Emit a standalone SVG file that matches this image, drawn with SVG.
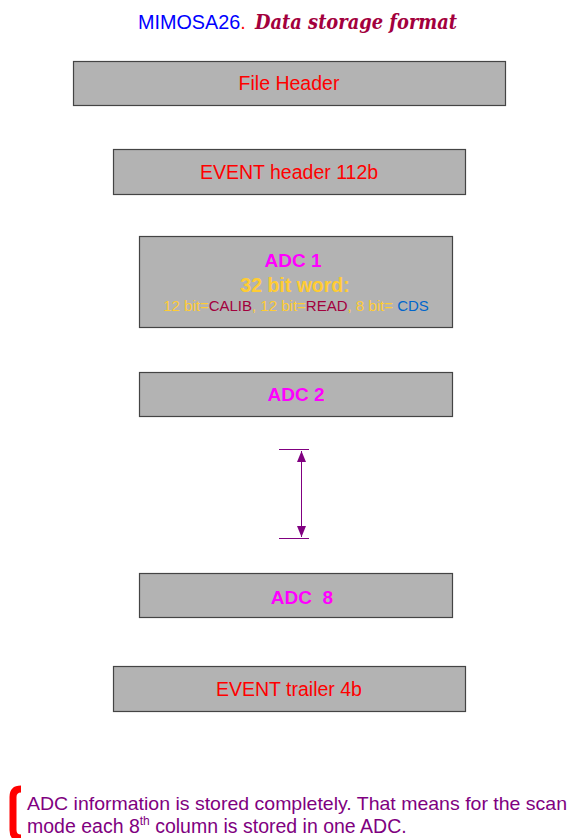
<svg xmlns="http://www.w3.org/2000/svg" width="574" height="838" viewBox="0 0 574 838">
<style>
.box{fill:#b3b3b3;stroke:#444;stroke-width:1.2}
.t{font-family:"Liberation Sans",Arial,sans-serif;text-anchor:middle}
.red{fill:#ff0000;font-size:19.5px}
.mag{fill:#ff00ff;font-size:19px;font-weight:bold}
.gold{fill:#ffcc33}
.crim{fill:#a3003d}
.cds{fill:#0066cc}
</style>
<defs>
<marker id="ah" viewBox="0 0 10 10" refX="10" refY="5" markerWidth="11" markerHeight="9" markerUnits="userSpaceOnUse" orient="auto-start-reverse" preserveAspectRatio="none">
<path d="M0,0 L10,5 L0,10 z" fill="#800080"/>
</marker>
</defs>
<g id="title">
<text x="138" y="29" font-family="'Liberation Sans',Arial,sans-serif" font-size="19.8" fill="#0000ff">MIMOSA26<tspan fill="#ff0000">.</tspan></text>
<text x="255" y="29" font-family="'DejaVu Serif',serif" font-size="20" font-style="italic" font-weight="bold" fill="#a3003d" textLength="202" lengthAdjust="spacingAndGlyphs">Data storage format</text>
</g>
<g id="file-header">
<rect class="box" x="73.5" y="61.5" width="432" height="44"/>
<text class="t red" x="289" y="90">File Header</text>
</g>
<g id="event-header">
<rect class="box" x="113.5" y="149.5" width="352" height="45"/>
<text class="t red" x="289" y="179">EVENT header 112b</text>
</g>
<g id="adc1">
<rect class="box" x="139.5" y="236.5" width="313" height="91"/>
<text class="t mag" x="293" y="267">ADC 1</text>
<text class="t gold" x="295" y="292" font-size="19.5" font-weight="bold">32 bit word:</text>
<text class="t gold" x="296" y="311" font-size="15">12 bit=<tspan class="crim">CALIB</tspan>, 12 bit=<tspan class="crim">READ</tspan>, 8 bit= <tspan class="cds">CDS</tspan></text>
</g>
<g id="adc2">
<rect class="box" x="139.5" y="372.5" width="313" height="44"/>
<text class="t mag" x="296" y="401">ADC 2</text>
</g>
<g id="adc8">
<rect class="box" x="139.5" y="573.5" width="313" height="44"/>
<text class="t mag" x="302" y="604" xml:space="preserve">ADC  8</text>
</g>
<g id="event-trailer">
<rect class="box" x="113.5" y="666.5" width="352" height="45"/>
<text class="t red" x="289" y="696">EVENT trailer 4b</text>
</g>
<g id="connectors" stroke="#800080" fill="none">
<line x1="279" y1="449.5" x2="309" y2="449.5" stroke-width="1"/>
<line x1="279" y1="538.5" x2="309" y2="538.5" stroke-width="1"/>
<line x1="301.5" y1="451" x2="301.5" y2="537" stroke-width="1" marker-start="url(#ah)" marker-end="url(#ah)"/>
</g>
<g id="note">
<path d="M21,789 Q13,789 13,797 L13,830 Q13,838 21,838" fill="none" stroke="#ff0000" stroke-width="7"/>
<text x="27" y="810" font-family="'Liberation Sans',Arial,sans-serif" font-size="19" fill="#800080" textLength="540" lengthAdjust="spacingAndGlyphs">ADC information is stored completely. That means for the scan</text>
<text x="27" y="833" font-family="'Liberation Sans',Arial,sans-serif" font-size="19.5" fill="#800080">mode each 8<tspan font-size="12" dy="-8">th</tspan><tspan dy="8"> column is stored in one ADC.</tspan></text>
</g>
</svg>
